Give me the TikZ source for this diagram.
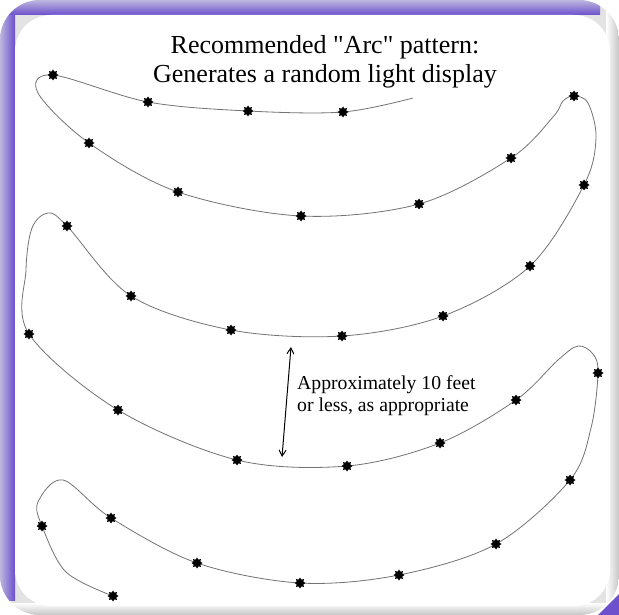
\documentclass[tikz,border=0pt]{standalone}
\usepackage{fontspec}
\setmainfont{Liberation Serif}
\usetikzlibrary{shapes.geometric,arrows.meta}
\definecolor{framepurple}{RGB}{108,80,204}
\definecolor{framelight}{RGB}{190,182,222}
\definecolor{wiregray}{RGB}{115,115,115}
\tikzset{
	lamp/.style={star,star points=8,star point ratio=1.5,fill=black,draw=none,
		inner sep=0pt,minimum size=11pt},
	wire/.style={draw=wiregray,line width=0.8pt},
	gap/.style={{Straight Barb[length=6pt,width=7pt]}-{Straight Barb[length=6pt,width=7pt]},line width=1pt},
	caption/.style={font=\fontsize{26}{29}\selectfont,align=center},
	note/.style={font=\fontsize{19.7}{22}\selectfont,align=left,inner sep=0pt}
}

\begin{document}
\begin{tikzpicture}[x=1pt,y=-1pt]
\useasboundingbox (0,0) rectangle (619,615);

% frame
\begin{scope}
\clip[rounded corners=40pt] (0,0) rectangle (619,615);
\fill[gray!22] (0,0) rectangle (619,615);
\shade[left color=white,right color=gray!45] (606,0) rectangle (619,615);
\shade[top color=white,bottom color=gray!45] (0,603) rectangle (619,615);
\shade[left color=framelight,right color=framepurple] (0,0) rectangle (15,600);
\shade[top color=framelight,bottom color=framepurple] (0,0) rectangle (600,15);
\end{scope}
\fill[framepurple] (619,594) -- (619,615) -- (598,615) -- cycle;
\fill[white,rounded corners=36pt] (15,15) rectangle (610,606);

\node[caption] (title) at (325,62) {Recommended \textquotedbl Arc\textquotedbl{} pattern:\\Generates a random light display};

% light positions along the string
\foreach \n/\x/\y in {1/343/112, 2/248/111, 3/148/102, 4/53/75, 5/89/143,
		6/178/192, 7/301/216, 8/419/204, 9/511/158, 10/574/96, 11/584/185,
		12/530/266, 13/443/316, 14/342/336, 15/231/330, 16/131/296, 17/67/226,
		18/29/334, 19/118/410, 20/237/460, 21/347/466, 22/440/443, 23/516/400,
		24/598/373, 25/570/480, 26/496/544, 27/399/575, 28/300/583, 29/197/563,
		30/111/518, 31/42/526, 32/113/596}
	\coordinate (p\n) at (\x,\y);

\coordinate (tail) at (413,98);
\coordinate (b1) at (38,93);
\coordinate (b2) at (553,117);
\coordinate (b3) at (563,101);
\coordinate (b4) at (588,103);
\coordinate (b5) at (596,138);
\coordinate (b6) at (48,213);
\coordinate (b7) at (32,228);
\coordinate (b8) at (26,270);
\coordinate (b9) at (558,360);
\coordinate (b10) at (578,346);
\coordinate (b11) at (593,354);
\coordinate (b12) at (591,428);
\coordinate (b13) at (63,480);
\coordinate (b14) at (38,502);
\coordinate (b15) at (66,572);

\draw[wire] plot[smooth,tension=0.55] coordinates {(tail) (p1) (p2) (p3) (p4) (b1)
	(p5) (p6) (p7) (p8) (p9) (b2) (b3) (p10) (b4) (b5) (p11) (p12) (p13) (p14)
	(p15) (p16) (p17) (b6) (b7) (b8) (p18) (p19) (p20) (p21) (p22) (p23) (b9)
	(b10) (b11) (p24) (b12) (p25) (p26) (p27) (p28) (p29) (p30) (b13) (b14)
	(p31) (b15) (p32)};

\foreach \n in {1,...,32}
	\node[lamp] (s\n) at (p\n) {};

% spacing between rows
\coordinate (gaptop) at (291,347);
\coordinate (gapbot) at (282,457);
\draw[gap] (gaptop) -- (gapbot);
\node[note,anchor=north west] (gapnote) at (297,375) {Approximately 10 feet\\or less, as appropriate};

\end{tikzpicture}
\end{document}
